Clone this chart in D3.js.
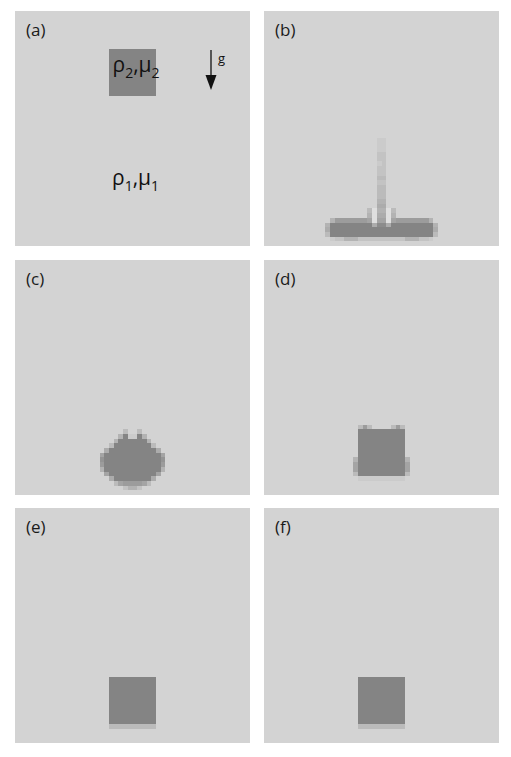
<!DOCTYPE html>
<html>
<head>
<meta charset="utf-8">
<script src="https://cdn.jsdelivr.net/npm/d3@7"></script>
<style>
body { margin: 0; background: #fff; }
svg { display: block; }
</style>
</head>
<body>
<div id="chart"></div>
<script>
// volume fraction of the heavy fluid on a 50x50 grid, read row by row
// each entry: [row, first column, codes]  '.'=0  '-'=slight undershoot  '1'..'9'=0.1..0.9  '#'=1
var panelLabels = ["(a)", "(b)", "(c)", "(d)", "(e)", "(f)"];

var snapA = [];
for (var r = 8; r <= 17; r++) snapA.push([r, 20, "##########"]);

var snapB = [
    [27, 24, "11"], [28, 24, "11"], [29, 24, "11"], [30, 24, "22"],
    [31, 24, "22"], [32, 24, "12"], [33, 24, "22"], [34, 24, "22"],
    [35, 24, "33"], [36, 24, "22"], [37, 24, "33"], [38, 24, "33"],
    [39, 24, "33"], [40, 24, "44"], [41, 24, "55"],
    [42, 22, "3-44-3"],
    [43, 22, "4-55-4"],
    [44, 14, "47777777" + "6-66-6" + "77777774"],
    [45, 13, "4#########5995#########4"],
    [46, 13, "5######################5"],
    [47, 13, "3######################3"],
    [48, 14, "1224442222222222444221"]
];

var snapC = [
    [36, 23, "3..3"],
    [37, 22, "4#11#4"],
    [38, 21, "4######4"],
    [39, 20, "3########3"],
    [40, 19, "5##########5"],
    [41, 18, "6############6"],
    [42, 18, "8############8"],
    [43, 18, "7############7"],
    [44, 18, "4############4"],
    [45, 19, "6##########6"],
    [46, 20, "5########5"],
    [47, 21, "36777763"],
    [48, 23, "2442"]
];

var snapD = [
    [35, 20, "373....373"],
    [36, 20, "##########"],
    [37, 20, "##########"],
    [38, 20, "##########"],
    [39, 20, "##########"],
    [40, 20, "##########"],
    [41, 20, "##########"],
    [42, 19, "4##########4"],
    [43, 19, "6##########6"],
    [44, 19, "6##########6"],
    [45, 19, "3##########3"],
    [46, 20, "1111111111"]
];

var snapE = [];
for (var r = 36; r <= 45; r++) snapE.push([r, 20, "##########"]);
snapE.push([46, 20, "3333333333"]);

var snapF = snapE.slice();

var snapshots = [snapA, snapB, snapC, snapD, snapE, snapF];

var W = 511, H = 757, N = 50, S = 235;
var colX = [15, 264], rowY = [11, 260, 508];

function codeValue(ch) {
    if (ch == ".") return 0;
    if (ch == "-") return -0.15;
    if (ch == "#") return 1;
    return +ch / 10;
}

var color = d3.scaleLinear().domain([0, 1]).range(["#d3d3d3", "#848484"]);
var x = d3.scaleLinear().domain([0, N]).range([0, S]).interpolate(d3.interpolateRound);
var y = d3.scaleLinear().domain([0, N]).range([0, S]).interpolate(d3.interpolateRound);

var svg = d3.select("#chart").append("svg").attr("width", W).attr("height", H);

var defs = svg.append("defs");
defs.append("filter").attr("id", "soft")
    .attr("x", "-5%").attr("y", "-5%").attr("width", "110%").attr("height", "110%")
    .append("feGaussianBlur").attr("stdDeviation", 0.55);

snapshots.forEach(function(snap, i) {
    // merge equal neighbours of a row into one run
    var runs = [];
    snap.forEach(function(d) {
        var chars = d[2].split(""), k = 0;
        while (k < chars.length) {
            var j = k;
            while (j + 1 < chars.length && chars[j + 1] == chars[k]) j++;
            var v = codeValue(chars[k]);
            if (v != 0) runs.push({ r: d[0], c: d[1] + k, n: j - k + 1, v: v });
            k = j + 1;
        }
    });

    var g = svg.append("g")
        .attr("transform", "translate(" + colX[i % 2] + "," + rowY[Math.floor(i / 2)] + ")");

    g.append("rect").attr("width", S).attr("height", S).attr("fill", color(0));

    g.append("g").attr("filter", "url(#soft)").attr("shape-rendering", "crispEdges")
        .selectAll("rect").data(runs).join("rect")
        .attr("x", function(d) { return x(d.c); })
        .attr("y", function(d) { return y(d.r); })
        .attr("width", function(d) { return x(d.c + d.n) - x(d.c); })
        .attr("height", function(d) { return y(d.r + 1) - y(d.r); })
        .attr("fill", function(d) { return color(d.v); });

    g.append("text")
        .attr("x", 11).attr("y", 25)
        .attr("font-family", "Open Sans").attr("font-size", 17)
        .attr("fill", "#1a1a1a")
        .text(panelLabels[i]);
});

// annotations of panel (a)
var a = svg.append("g").attr("transform", "translate(" + colX[0] + "," + rowY[0] + ")");

function fluidLabel(lx, ly, sub) {
    var t = a.append("text").attr("x", lx).attr("y", ly)
        .attr("font-family", "Open Sans").attr("font-size", 21).attr("fill", "#111");
    t.append("tspan").text("\u03c1");
    t.append("tspan").attr("font-size", 14).attr("dy", 6).text(sub);
    t.append("tspan").attr("dy", -6).text(",\u03bc");
    t.append("tspan").attr("font-size", 14).attr("dy", 6).text(sub);
}
fluidLabel(97.5, 61, "2");
fluidLabel(97, 174, "1");

a.append("line")
    .attr("x1", 196).attr("x2", 196).attr("y1", 39).attr("y2", 66)
    .attr("stroke", "#111").attr("stroke-width", 1.3);
a.append("path")
    .attr("d", "M190.5,64L201.5,64L196,79Z")
    .attr("fill", "#111");
a.append("text")
    .attr("x", 203).attr("y", 52)
    .attr("font-family", "Open Sans").attr("font-size", 13).attr("fill", "#111")
    .text("g");
</script>
</body>
</html>
